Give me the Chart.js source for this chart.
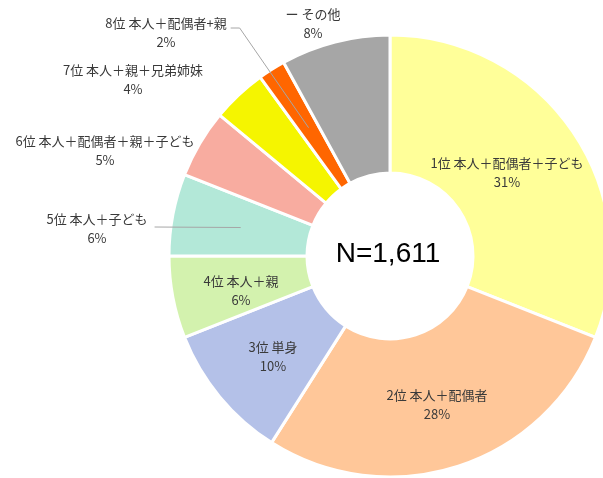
<!DOCTYPE html>
<html>
<head>
<meta charset="utf-8">
<script src="https://cdn.jsdelivr.net/npm/chart.js@4.4.1/dist/chart.umd.min.js"></script>
<style>
html,body{margin:0;padding:0;background:#fff;}
#wrap{width:603px;height:478px;overflow:hidden;position:relative;}
canvas{display:block;}
</style>
</head>
<body>
<div id="wrap"><canvas id="c" width="640" height="500"></canvas></div>
<script>
const categories = ['1位 本人＋配偶者＋子ども','2位 本人＋配偶者','3位 単身','4位 本人＋親','5位 本人＋子ども','6位 本人＋配偶者＋親＋子ども','7位 本人＋親＋兄弟姉妹','8位 本人＋配偶者+親','ー その他'];
const shares = [31, 28, 10, 6, 6, 5, 4, 2, 8];
const pctLabels = ['31%','28%','10%','6%','6%','5%','4%','2%','8%'];
const centerText = 'N=1,611';

const colors = ['#FFFF99','#FFC799','#B4C1E8','#D3F2AE','#B3E8D8','#F8ACA0','#F5F500','#FF6600','#A6A6A6'];
// label block positions relative to chart centre: [dx, dy of first line]
const labelOffsets = [[117,-93],[47,139],[-117,91],[-149,25],[-293,-37],[-285,-115],[-257,-186],[-224,-233],[-77,-242]];
const leaderSlices = [4, 7];

const labelPlugin = {
  id: 'labels',
  afterDraw(chart) {
    const ctx = chart.ctx;
    const meta = chart.getDatasetMeta(0);
    const arc0 = meta.data[0];
    const cx = arc0.x, cy = arc0.y;
    ctx.save();
    ctx.textAlign = 'center';
    ctx.textBaseline = 'middle';
    meta.data.forEach((arc, i) => {
      const [dx, dy] = labelOffsets[i];
      const x = cx + dx, y = cy + dy;
      ctx.fillStyle = '#3a3a3a';
      ctx.font = '13px "Noto Sans CJK JP"';
      ctx.fillText(categories[i], x, y);
      const w = ctx.measureText(categories[i]).width;
      ctx.fillText(pctLabels[i], x, y + 19.5);
      if (leaderSlices.includes(i)) {
        const mid = (arc.startAngle + arc.endAngle) / 2;
        const r = (arc.innerRadius + arc.outerRadius) / 2;
        const ex = cx + Math.cos(mid) * r, ey = cy + Math.sin(mid) * r;
        ctx.strokeStyle = '#A6A6A6';
        ctx.lineWidth = 1;
        ctx.beginPath();
        if (i === 4) {
          ctx.moveTo(x + w / 2 + 7, y + 8);
          ctx.lineTo(ex, ey);
        } else {
          ctx.moveTo(x + w / 2 + 4, y + 5);
          ctx.lineTo(x + w / 2 + 13, y + 5);
          ctx.lineTo(ex, ey);
        }
        ctx.stroke();
      }
    });
    ctx.fillStyle = '#000';
    ctx.font = '28px "Liberation Sans", Arial, sans-serif';
    ctx.fillText(centerText, cx - 2, cy - 2);
    ctx.restore();
  }
};

new Chart(document.getElementById('c'), {
  type: 'doughnut',
  data: {
    labels: categories,
    datasets: [{
      data: shares,
      backgroundColor: colors,
      borderColor: '#ffffff',
      borderWidth: 3,
      hoverOffset: 0
    }]
  },
  options: {
    responsive: false,
    animation: false,
    cutout: 83,
    layout: { padding: { left: 167.5, right: 27.5, top: 33.5, bottom: 21.5 } },
    plugins: { legend: { display: false }, tooltip: { enabled: false } }
  },
  plugins: [labelPlugin]
});
</script>
</body>
</html>
